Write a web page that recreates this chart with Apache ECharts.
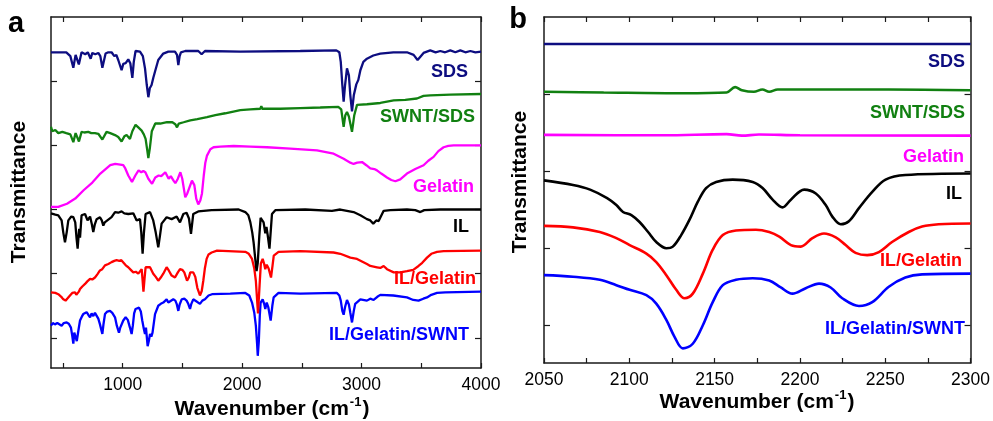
<!DOCTYPE html>
<html>
<head>
<meta charset="utf-8">
<script src="https://cdn.jsdelivr.net/npm/echarts@6/dist/echarts.min.js"></script>
<style>
  html, body { margin: 0; padding: 0; background: #fff; }
  #chart { width: 993px; height: 421px; }
</style>
</head>
<body>
<div id="chart"></div>
<script>
// ---- FTIR spectra, panel a (full range, offset transmittance, a.u.) ----
const sdsA = [[400,44.5],[528,44.5],[562,43.9],[587,42.1],[606,44.1],[633,42.6],[656,44.5],[687,44.2],[708,44.5],[732,43.5],[746,44.4],[771,44.2],[796,44.4],[813,43.9],[830,42.1],[857,44.3],[880,44.5],[907,44.5],[930,43.9],[947,44.1],[963,43.3],[991,41.7],[1005,42.7],[1025,42.8],[1047,43.4],[1064,42.8],[1081,40.5],[1093,43.0],[1108,44.7],[1145,44.6],[1169,43.9],[1187,42.0],[1202,39.4],[1215,37.5],[1227,38.9],[1242,39.4],[1256,40.5],[1271,41.5],[1298,43.3],[1340,44.3],[1382,44.6],[1438,44.6],[1455,44.1],[1466,42.5],[1477,43.9],[1488,44.5],[1524,44.7],[1633,44.7],[1661,44.2],[1689,44.7],[1985,44.6],[2487,44.7],[2789,44.8],[2814,44.5],[2826,43.0],[2839,39.4],[2850,36.8],[2862,39.4],[2878,42.0],[2894,40.9],[2906,37.8],[2920,35.3],[2935,37.8],[2956,39.5],[2973,40.2],[2990,41.7],[3015,43.0],[3045,43.5],[3098,44.0],[3157,44.3],[3266,44.5],[3380,44.5],[3436,44.1],[3469,43.3],[3496,43.9],[3519,44.4],[3575,44.8],[3620,44.5],[3659,44.7],[3700,44.5],[3743,44.8],[3785,44.5],[3827,44.8],[3869,44.5],[3911,44.7],[3953,44.5],[4000,44.6]];
const swntSdsA = [[400,32.9],[411,32.2],[436,32.4],[461,31.9],[495,32.1],[528,31.9],[562,31.7],[587,30.5],[606,31.9],[634,30.6],[656,32.1],[679,32.0],[712,32.1],[737,31.9],[768,31.9],[796,31.8],[830,30.9],[865,32.1],[896,31.9],[936,31.6],[963,31.3],[991,30.6],[1014,31.4],[1033,31.6],[1061,31.0],[1081,32.2],[1108,33.2],[1131,32.8],[1159,32.3],[1177,31.7],[1192,31.0],[1204,29.5],[1215,28.0],[1227,29.5],[1244,32.2],[1273,33.4],[1315,33.4],[1371,33.6],[1416,33.6],[1441,33.3],[1455,32.8],[1470,33.4],[1510,33.6],[1566,33.9],[1625,34.1],[1706,34.4],[1776,34.7],[1859,35.0],[1985,35.5],[2068,35.6],[2152,35.7],[2161,36.1],[2169,35.7],[2319,35.7],[2487,35.8],[2654,35.9],[2805,36.0],[2830,35.6],[2850,32.9],[2864,34.7],[2878,35.2],[2894,34.5],[2920,32.1],[2939,34.7],[2962,36.3],[3045,36.4],[3157,36.6],[3269,37.0],[3366,37.1],[3464,37.3],[3519,37.7],[3575,37.8],[3743,37.9],[4000,38.0]];
const gelatinA = [[400,20.4],[461,20.4],[534,20.9],[603,21.7],[673,23.0],[746,24.2],[813,25.6],[896,26.9],[938,27.1],[980,27.0],[1005,26.9],[1022,26.4],[1047,25.3],[1078,24.3],[1106,25.3],[1133,26.1],[1156,25.8],[1173,26.0],[1190,25.8],[1215,24.8],[1246,24.0],[1273,25.0],[1301,25.3],[1323,25.2],[1357,25.8],[1385,24.8],[1403,25.2],[1426,24.5],[1441,24.1],[1462,24.8],[1483,25.8],[1499,24.8],[1524,21.9],[1541,22.5],[1580,24.5],[1600,23.8],[1616,21.7],[1633,20.8],[1650,21.4],[1664,22.5],[1679,25.3],[1692,27.3],[1706,28.4],[1734,29.4],[1761,29.7],[1817,29.8],[1929,29.9],[2069,29.8],[2208,29.7],[2403,29.5],[2627,29.2],[2766,28.7],[2850,27.9],[2906,27.3],[2933,27.1],[2964,27.3],[3004,27.4],[3040,26.9],[3073,26.4],[3107,26.3],[3129,26.1],[3165,25.6],[3213,25.0],[3249,24.6],[3283,24.4],[3324,24.7],[3380,25.6],[3450,26.3],[3519,26.9],[3559,27.6],[3603,28.2],[3643,29.1],[3687,29.7],[3726,29.9],[3771,30.0],[4000,30.0]];
const ilA = [[400,19.4],[436,19.2],[461,19.1],[489,18.3],[503,16.4],[517,14.9],[531,16.4],[545,18.3],[570,18.9],[587,18.8],[603,18.0],[614,15.5],[623,13.9],[631,15.9],[636,17.0],[643,15.6],[650,17.5],[656,19.1],[685,19.3],[706,18.3],[727,18.9],[742,17.7],[754,16.5],[767,17.7],[782,18.5],[810,18.8],[825,18.3],[838,17.5],[850,18.0],[865,18.0],[907,18.8],[936,19.6],[963,19.5],[991,19.7],[1014,19.4],[1030,19.7],[1047,19.3],[1089,19.4],[1117,18.3],[1145,18.5],[1156,16.4],[1167,13.1],[1178,16.4],[1192,19.3],[1229,19.6],[1256,18.3],[1277,16.4],[1298,14.1],[1312,15.9],[1326,17.8],[1368,18.8],[1410,18.5],[1452,18.9],[1480,18.0],[1508,19.3],[1535,19.5],[1555,18.6],[1572,16.2],[1583,18.0],[1591,19.3],[1633,19.7],[1745,19.9],[1971,20.0],[2027,19.6],[2052,19.1],[2069,18.0],[2085,16.4],[2096,14.9],[2110,12.3],[2121,10.4],[2131,11.7],[2144,15.9],[2155,18.7],[2165,18.8],[2180,18.0],[2194,16.3],[2204,17.3],[2215,15.9],[2229,13.9],[2240,16.7],[2250,19.3],[2278,19.9],[2529,20.0],[2752,19.8],[2822,20.0],[2933,19.6],[2990,19.1],[3045,18.5],[3073,18.3],[3098,17.8],[3123,18.3],[3143,18.2],[3157,18.4],[3185,19.8],[3241,19.9],[3380,20.0],[3450,19.9],[3492,19.6],[3525,19.9],[3659,20.0],[4000,20.0]];
const ilGelA = [[400,7.1],[436,7.0],[461,6.8],[486,6.4],[503,6.0],[522,5.8],[541,6.2],[559,6.6],[578,7.0],[601,7.1],[612,6.7],[623,6.4],[633,7.2],[643,7.6],[662,8.0],[685,8.4],[704,8.8],[727,9.2],[746,9.1],[768,9.4],[788,9.9],[810,10.5],[829,10.7],[852,11.3],[880,11.5],[907,11.8],[930,12.0],[949,12.1],[972,12.0],[989,12.1],[1005,11.8],[1026,11.3],[1047,11.0],[1068,10.6],[1089,10.2],[1110,10.3],[1131,10.0],[1159,10.7],[1166,9.2],[1174,7.2],[1183,9.2],[1192,11.0],[1229,11.0],[1256,10.0],[1277,9.5],[1298,8.9],[1319,9.4],[1340,10.0],[1368,11.0],[1386,10.5],[1410,9.7],[1438,9.4],[1462,10.2],[1480,10.7],[1499,10.6],[1516,10.2],[1539,8.9],[1554,9.4],[1566,10.2],[1591,10.2],[1608,9.5],[1625,7.8],[1647,6.6],[1662,7.3],[1675,8.9],[1688,10.8],[1703,12.3],[1719,13.0],[1745,13.3],[1790,13.6],[2027,13.4],[2056,13.1],[2083,12.3],[2102,10.8],[2115,8.9],[2133,3.8],[2146,8.1],[2157,11.6],[2172,12.3],[2186,11.4],[2194,10.7],[2206,11.4],[2222,10.8],[2242,9.4],[2255,11.3],[2265,12.8],[2305,13.4],[2487,13.5],[2766,13.3],[2822,13.1],[2906,12.5],[2962,12.3],[3045,11.5],[3073,11.2],[3129,11.0],[3144,11.2],[3157,10.9],[3185,11.2],[3213,10.7],[3269,10.2],[3324,10.2],[3380,10.4],[3433,10.6],[3477,11.2],[3508,11.7],[3548,12.5],[3584,13.1],[3632,13.4],[3687,13.5],[4000,13.6]];
const ilGelSwntA = [[400,1.9],[415,2.3],[433,2.1],[453,2.3],[469,2.0],[489,1.9],[507,2.3],[531,2.4],[549,2.2],[567,1.6],[578,0.3],[587,-0.9],[595,0.8],[601,1.1],[608,0.0],[616,-0.5],[629,1.1],[643,2.7],[658,3.3],[670,3.7],[698,4.0],[712,3.6],[727,3.2],[740,3.8],[754,3.4],[768,3.9],[782,3.8],[796,3.0],[810,2.1],[830,0.6],[840,2.2],[852,3.7],[871,4.1],[894,4.2],[913,3.9],[936,3.2],[951,1.9],[969,0.8],[980,1.6],[991,1.6],[1005,2.7],[1025,3.2],[1043,2.8],[1061,1.6],[1075,0.6],[1085,1.9],[1096,3.8],[1108,4.5],[1137,4.7],[1152,4.1],[1164,2.7],[1177,1.4],[1187,0.6],[1195,1.6],[1209,-1.3],[1219,-0.5],[1229,0.6],[1240,0.2],[1250,0.8],[1271,3.7],[1298,5.0],[1319,5.3],[1340,5.5],[1368,6.0],[1382,5.5],[1396,5.8],[1424,6.0],[1441,5.8],[1452,5.3],[1466,4.2],[1477,5.2],[1494,6.0],[1516,6.1],[1535,5.8],[1549,5.3],[1564,4.5],[1575,5.3],[1591,6.0],[1616,5.7],[1647,5.3],[1667,5.8],[1689,6.0],[1719,6.6],[1748,6.8],[1901,6.9],[2027,7.0],[2060,6.6],[2083,5.5],[2102,3.9],[2115,1.9],[2125,-0.8],[2131,-2.8],[2140,-0.5],[2148,3.4],[2155,5.5],[2172,6.0],[2186,5.2],[2194,4.5],[2206,5.5],[2219,4.8],[2239,2.7],[2253,5.0],[2264,6.3],[2305,7.0],[2487,6.9],[2794,7.0],[2814,6.6],[2826,5.8],[2839,4.2],[2850,3.6],[2862,4.8],[2878,5.9],[2894,5.2],[2906,3.9],[2920,2.4],[2935,4.2],[2947,5.3],[2962,5.5],[2990,6.0],[3045,5.8],[3073,6.1],[3101,5.9],[3115,6.2],[3132,6.4],[3157,6.7],[3266,6.6],[3380,6.3],[3433,5.9],[3477,5.8],[3517,6.1],[3548,6.3],[3584,6.7],[3632,7.0],[3701,7.1],[4000,7.2]];

// ---- Panel b (2050-2300 cm-1 window) ----
const sdsB = [[2050,36.5],[2150,36.5],[2300,36.5]];
const swntSdsB = [[2050,30.3],[2085,30.2],[2132,30.1],[2157,30.2],[2162,30.9],[2166,30.5],[2173,30.3],[2178,30.6],[2182,30.3],[2187,30.6],[2207,30.6],[2233,30.6],[2252,30.6],[2300,30.5]];
const gelatinB = [[2050,24.7],[2120,24.65],[2157,24.8],[2166,24.6],[2176,24.75],[2200,24.65],[2300,24.6]];
const ilB = [[2050,18.8],[2067,18.2],[2077,17.6],[2087,16.5],[2092.4,15.6],[2096.3,14.7],[2101.2,14.3],[2106,13.4],[2111,12.1],[2115.8,10.8],[2121.7,10.0],[2125.5,10.2],[2130.4,11.7],[2135.3,13.7],[2140.1,16.0],[2145,17.8],[2150.9,18.6],[2160.6,18.9],[2172.3,18.6],[2178.1,17.8],[2184,16.3],[2189.8,15.3],[2194.7,16.3],[2202.5,17.6],[2209.3,17.1],[2215.1,15.6],[2219,14.1],[2223.9,13.1],[2228.7,13.5],[2234.6,15.2],[2242.4,17.3],[2250.2,18.9],[2261.8,19.5],[2300,19.7]];
const ilGelB = [[2050,12.9],[2067,12.7],[2082.7,12.1],[2092.4,11.3],[2100.2,10.4],[2110,9.3],[2115.8,8.2],[2121.7,6.5],[2127.5,4.6],[2132.4,3.5],[2137.2,4.1],[2143.1,6.7],[2148.9,9.8],[2154.8,11.7],[2162.5,12.3],[2174.2,12.4],[2182,12.1],[2187.9,11.5],[2194.7,10.4],[2200.5,10.2],[2207.3,11.3],[2214.1,11.9],[2221,11.4],[2226.8,10.4],[2232.6,9.4],[2239.4,9.1],[2246.3,9.5],[2254,10.8],[2263.8,12.1],[2271.6,12.8],[2281.3,13.1],[2300,13.2]];
const ilGelSwntB = [[2050,6.5],[2067,6.3],[2082.7,5.9],[2092.4,5.2],[2100.2,4.6],[2110,3.9],[2115.8,2.8],[2121.7,0.7],[2126.5,-1.5],[2131.4,-3.0],[2137.2,-2.4],[2143.1,0.0],[2148.9,3.0],[2154.8,5.2],[2162.5,5.9],[2172.3,6.1],[2182,5.8],[2188.8,4.9],[2195.6,4.1],[2203.4,4.8],[2211.2,5.4],[2218,4.9],[2224.8,3.5],[2234.6,2.5],[2242.4,3.0],[2252.1,5.0],[2261.8,6.2],[2271.6,6.6],[2300,6.7]];

// ---- Axis ticks and labels ----
const ticksXA = [500,1000,1500,2000,2500,3000,3500,4000];
const labelsXA = [1000,2000,3000,4000];
const ticksYA = [0,10,20,30,40];
const ticksXB = [2050,2075,2100,2125,2150,2175,2200,2225,2250,2275,2300];
const labelsXB = [2050,2100,2150,2200,2250,2300];
const ticksYB = [0,10,20,30];

const names = ['SDS','SWNT/SDS','Gelatin','IL','IL/Gelatin','IL/Gelatin/SWNT'];
const colors = ['#0d0d80','#118011','#ff00ff','#000000','#ff0000','#0000ff'];
const seriesA = [sdsA, swntSdsA, gelatinA, ilA, ilGelA, ilGelSwntA];
const seriesB = [sdsB, swntSdsB, gelatinB, ilB, ilGelB, ilGelSwntB];

const FONT = '"Liberation Sans", Arial, Helvetica, sans-serif';
const axisColor = '#1a1a1a';

function xAxisDef(grid, min, max, ticks, labels, pos) {
  const bottom = pos === 'bottom';
  return {
    type: 'value', gridIndex: grid, position: pos, min: min, max: max,
    axisLine: { show: true, onZero: false, lineStyle: { color: axisColor, width: 1.5 } },
    axisTick: { show: true, inside: true, length: 5, customValues: ticks, lineStyle: { color: axisColor, width: 1.2 } },
    axisLabel: { show: bottom, customValues: labels, margin: 8, color: '#000', fontSize: 17.5, fontFamily: FONT,
      formatter: v => String(v) },
    splitLine: { show: false }
  };
}
function yAxisDef(grid, min, max, ticks, pos) {
  return {
    type: 'value', gridIndex: grid, position: pos, min: min, max: max,
    axisLine: { show: true, onZero: false, lineStyle: { color: axisColor, width: 1.5 } },
    axisTick: { show: true, inside: true, length: 6, customValues: ticks, lineStyle: { color: axisColor, width: 1.2 } },
    axisLabel: { show: false },
    splitLine: { show: false }
  };
}

const series = [];
seriesA.forEach((d, i) => series.push({
  type: 'line', name: names[i] + ' (a)', xAxisIndex: 0, yAxisIndex: 0, data: d,
  showSymbol: false, smooth: false, lineStyle: { color: colors[i], width: 2.3 }, z: 10 - i
}));
seriesB.forEach((d, i) => series.push({
  type: 'line', name: names[i] + ' (b)', xAxisIndex: 2, yAxisIndex: 2, data: d,
  showSymbol: false, smooth: 0.35, lineStyle: { color: colors[i], width: 2.6 }, z: 10 - i
}));

function label(text, x, y, color) {
  return { type: 'text', x: x, y: y, style: { text: text, fill: color, font: 'bold 18px ' + FONT, align: 'right', verticalAlign: 'middle', textAlign: 'right', textVerticalAlign: 'middle' } };
}
function plain(text, x, y, size, rot) {
  return { type: 'text', x: x, y: y, rotation: rot || 0,
    style: { text: text, fill: '#000', font: 'bold ' + size + 'px ' + FONT, align: 'center', verticalAlign: 'middle', textAlign: 'center', textVerticalAlign: 'middle' } };
}
function wavenumberTitle(x, y) {
  return { type: 'text', x: x, y: y,
    style: { text: '{m|Wavenumber (cm}{s|-1}{m|)}', align: 'center', verticalAlign: 'middle', textAlign: 'center', textVerticalAlign: 'middle',
      rich: {
        m: { fontSize: 21, fontWeight: 'bold', fontFamily: FONT, fill: '#000', color: '#000', lineHeight: 24, verticalAlign: 'bottom' },
        s: { fontSize: 13, fontWeight: 'bold', fontFamily: FONT, fill: '#000', color: '#000', lineHeight: 24, verticalAlign: 'top', padding: [0, 1, 10, 1] }
      } } };
}

const labelPosA = [[468,72],[475,117],[474,187],[469,227],[476,279],[469,335]];
const labelPosB = [[965,62],[965,113],[964,157],[962,194],[962,261],[965,329]];

const graphic = [];
names.forEach((n, i) => {
  graphic.push(label(n, labelPosA[i][0], labelPosA[i][1], colors[i]));
  graphic.push(label(n, labelPosB[i][0], labelPosB[i][1], colors[i]));
});
graphic.push(plain('a', 16, 24, 29));
graphic.push(plain('b', 518, 20, 29));
graphic.push(plain('Transmittance', 19, 192, 21, Math.PI / 2));
graphic.push(plain('Transmittance', 520, 182, 21, Math.PI / 2));
graphic.push(wavenumberTitle(272, 408));
graphic.push(wavenumberTitle(757, 401));

const option = {
  animation: false,
  backgroundColor: '#ffffff',
  grid: [
    { left: 51, top: 17, width: 430, height: 351, containLabel: false },
    { left: 544, top: 17, width: 428, height: 346, containLabel: false }
  ],
  xAxis: [
    xAxisDef(0, 400, 4000, ticksXA, labelsXA, 'bottom'),
    xAxisDef(0, 400, 4000, ticksXA, labelsXA, 'top'),
    xAxisDef(1, 2050, 2300, ticksXB, labelsXB, 'bottom'),
    xAxisDef(1, 2050, 2300, ticksXB, labelsXB, 'top')
  ],
  yAxis: [
    yAxisDef(0, -4.7, 50, ticksYA, 'left'),
    yAxisDef(0, -4.7, 50, ticksYA, 'right'),
    yAxisDef(1, -4.9, 40, ticksYB, 'left'),
    yAxisDef(1, -4.9, 40, ticksYB, 'right')
  ],
  series: series,
  graphic: graphic
};

const chart = echarts.init(document.getElementById('chart'), null, { renderer: 'canvas' });
chart.setOption(option);
</script>
</body>
</html>
